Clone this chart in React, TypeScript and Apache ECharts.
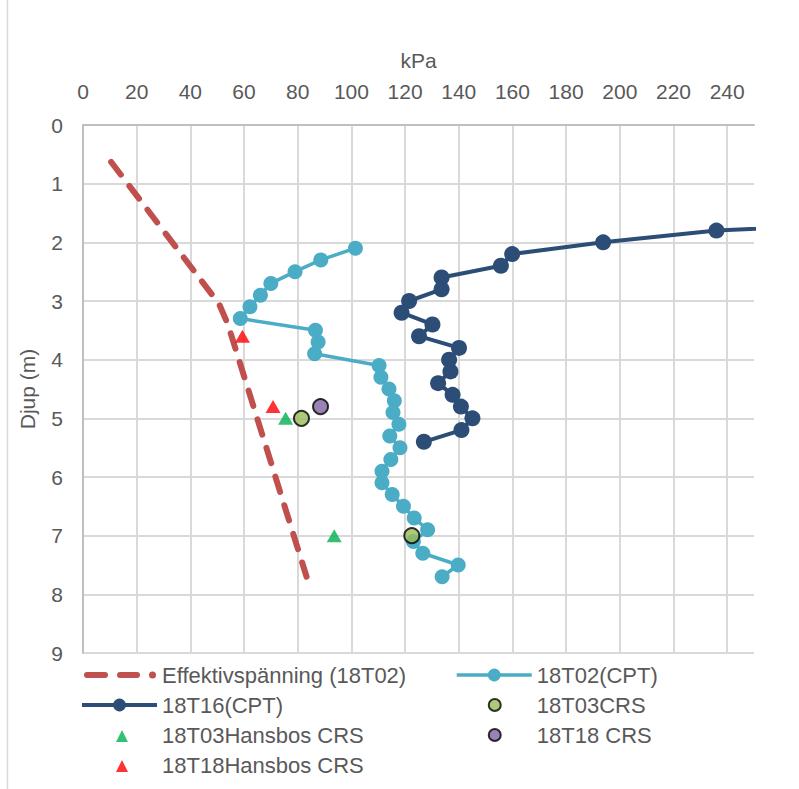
import React, { useEffect, useRef } from "react";
import * as echarts from "echarts";

// ---- data (kPa, depth m) ----
const effDepth = [0.63, 3.05, 3.4, 7.7];
const effValue = [10.5, 50.7, 54.0, 83.3];

const t02Depth = [2.1, 2.3, 2.5, 2.7, 2.9, 3.1, 3.3, 3.5, 3.7, 3.9, 4.1, 4.3, 4.5, 4.7, 4.9, 5.1, 5.3, 5.5, 5.7, 5.9, 6.1, 6.3, 6.5, 6.7, 6.9, 7.1, 7.3, 7.5, 7.7];
const t02Value = [101.5, 88.6, 79.0, 70.0, 66.1, 62.2, 58.6, 86.6, 87.6, 86.3, 110.3, 111.0, 114.0, 116.0, 115.5, 117.7, 114.3, 118.1, 114.7, 111.4, 111.4, 115.2, 119.4, 123.4, 128.4, 123.1, 126.6, 139.8, 133.8];

const t16Depth = [1.6, 1.8, 2.0, 2.2, 2.4, 2.6, 2.8, 3.0, 3.2, 3.4, 3.6, 3.8, 4.0, 4.2, 4.4, 4.6, 4.8, 5.0, 5.2, 5.4];
const t16Value = [330, 236.0, 193.8, 159.9, 155.7, 133.6, 133.6, 121.5, 118.7, 130.2, 125.2, 140.1, 136.4, 136.9, 132.3, 137.7, 140.8, 145.1, 141.0, 127.0];

const t03CrsDepth = [5.0, 7.0];
const t03CrsValue = [81.4, 122.5];

const t03HansDepth = [5.0, 7.0];
const t03HansValue = [75.5, 93.6];

const t18CrsDepth = [4.8];
const t18CrsValue = [88.5];

const t18HansDepth = [3.6, 4.8];
const t18HansValue = [59.4, 70.8];

const xTickMin = 0;
const xTickMax = 250;
const xTickStep = 20;
const yTickMin = 0;
const yTickMax = 9;
const yTickStep = 1;

const seriesNames = [
  "Effektivspänning (18T02)",
  "18T02(CPT)",
  "18T16(CPT)",
  "18T03CRS",
  "18T03Hansbos CRS",
  "18T18 CRS",
  "18T18Hansbos CRS",
];

const pairs = (v: number[], d: number[]) => v.map((x, i) => [x, d[i]]);

const FONT = "'Liberation Sans', Arial, sans-serif";
const TXT = "#595959";

// legend icons (75 x 16 box, anchored by move-to corners)
const ICON_BOX = "M0,0 M75,16 ";
const dashIcon =
  "path://" + ICON_BOX +
  "M5,5 L23,5 A3,3 0 0 1 23,11 L5,11 A3,3 0 0 1 5,5 Z " +
  "M38,5 L55,5 A3,3 0 0 1 55,11 L38,11 A3,3 0 0 1 38,5 Z " +
  "M67,8 A3.5,3.5 0 1 1 74,8 A3.5,3.5 0 1 1 67,8 Z";
const triIcon = "path://" + ICON_BOX + "M34,15 L40,3 L46,15 Z";
const circIcon = "path://" + ICON_BOX + "M32,8 A6,6 0 1 1 44,8 A6,6 0 1 1 32,8 Z";

export default function App() {
  const ref = useRef<HTMLDivElement>(null);
  useEffect(() => {
    document.body.style.margin = "0";
    const chart = echarts.init(ref.current!, null, { renderer: "svg" });
    const legendText = { fontFamily: FONT, fontSize: 22, color: TXT };
    chart.setOption({
      animation: false,
      backgroundColor: "#ffffff",
      textStyle: { fontFamily: FONT },
      grid: { left: 83, top: 125, right: 45, bottom: 136, containLabel: false },
      xAxis: {
        type: "value",
        position: "top",
        min: xTickMin,
        max: xTickMax,
        interval: xTickStep,
        name: "kPa",
        nameLocation: "middle",
        nameGap: 54,
        nameTextStyle: { fontFamily: FONT, fontSize: 21, color: TXT },
        axisLine: { show: true, lineStyle: { color: "#BFBFBF", width: 2 } },
        axisTick: { show: false },
        axisLabel: { fontFamily: FONT, fontSize: 21, color: TXT, margin: 23, showMaxLabel: false },
        splitLine: { show: true, showMaxLine: false, lineStyle: { color: "#D9D9D9", width: 2 } },
      },
      yAxis: {
        type: "value",
        inverse: true,
        min: yTickMin,
        max: yTickMax,
        interval: yTickStep,
        name: "Djup (m)",
        nameLocation: "middle",
        nameGap: 45,
        nameTextStyle: { fontFamily: FONT, fontSize: 21, color: TXT },
        axisLine: { show: true, lineStyle: { color: "#BFBFBF", width: 2 } },
        axisTick: { show: false },
        axisLabel: { fontFamily: FONT, fontSize: 21, color: TXT, margin: 20 },
        splitLine: { show: true, lineStyle: { color: "#D9D9D9", width: 2 } },
      },
      legend: [
        {
          orient: "vertical",
          left: 75,
          top: 659,
          itemWidth: 75,
          itemHeight: 16,
          itemGap: 8,
          textStyle: legendText,
          data: [
            { name: seriesNames[0], icon: dashIcon, itemStyle: { color: "#C0504D", borderWidth: 0 } },
            { name: seriesNames[2], lineStyle: { width: 4 } },
            { name: seriesNames[4], icon: triIcon },
            { name: seriesNames[6], icon: triIcon },
          ],
        },
        {
          orient: "vertical",
          left: 450,
          top: 659,
          itemWidth: 75,
          itemHeight: 16,
          itemGap: 8,
          textStyle: legendText,
          data: [
            { name: seriesNames[1], lineStyle: { width: 3.5 } },
            { name: seriesNames[3], icon: circIcon },
            { name: seriesNames[5], icon: circIcon },
          ],
        },
      ],
      graphic: [
        {
          type: "line",
          shape: { x1: 7.5, y1: 0, x2: 7.5, y2: 789 },
          style: { stroke: "#D9D9D9", lineWidth: 1.5 },
          silent: true,
        },
      ],
      series: [
        {
          name: seriesNames[0],
          type: "line",
          data: pairs(effValue, effDepth),
          symbol: "none",
          lineStyle: { color: "#C0504D", width: 6, type: [16, 14], cap: "round" },
          itemStyle: { color: "#C0504D" },
          z: 2,
        },
        {
          name: seriesNames[1],
          type: "line",
          data: pairs(t02Value, t02Depth),
          symbol: "circle",
          symbolSize: 15,
          lineStyle: { color: "#4BACC6", width: 3.5 },
          itemStyle: { color: "#4BACC6" },
          z: 3,
        },
        {
          name: seriesNames[2],
          type: "line",
          data: pairs(t16Value, t16Depth),
          symbol: "circle",
          symbolSize: 16,
          lineStyle: { color: "#2C4D75", width: 4 },
          itemStyle: { color: "#2C4D75" },
          z: 4,
        },
        {
          name: seriesNames[3],
          type: "scatter",
          data: pairs(t03CrsValue, t03CrsDepth),
          symbol: "circle",
          symbolSize: 15,
          itemStyle: { color: "#9BBB59", borderColor: "#000000", borderWidth: 2 },
          z: 5,
        },
        {
          name: seriesNames[4],
          type: "scatter",
          data: pairs(t03HansValue, t03HansDepth),
          symbol: "triangle",
          symbolSize: [15, 13],
          itemStyle: { color: "#00B050" },
          z: 6,
        },
        {
          name: seriesNames[5],
          type: "scatter",
          data: pairs(t18CrsValue, t18CrsDepth),
          symbol: "circle",
          symbolSize: 15,
          itemStyle: { color: "#8064A2", borderColor: "#000000", borderWidth: 2 },
          z: 7,
        },
        {
          name: seriesNames[6],
          type: "scatter",
          data: pairs(t18HansValue, t18HansDepth),
          symbol: "triangle",
          symbolSize: [15, 13],
          itemStyle: { color: "#FF0000" },
          z: 8,
        },
      ],
    });
    return () => chart.dispose();
  }, []);
  return (
    <div
      ref={ref}
      style={{ position: "absolute", left: 0, top: 0, width: 799, height: 789 }}
    />
  );
}
